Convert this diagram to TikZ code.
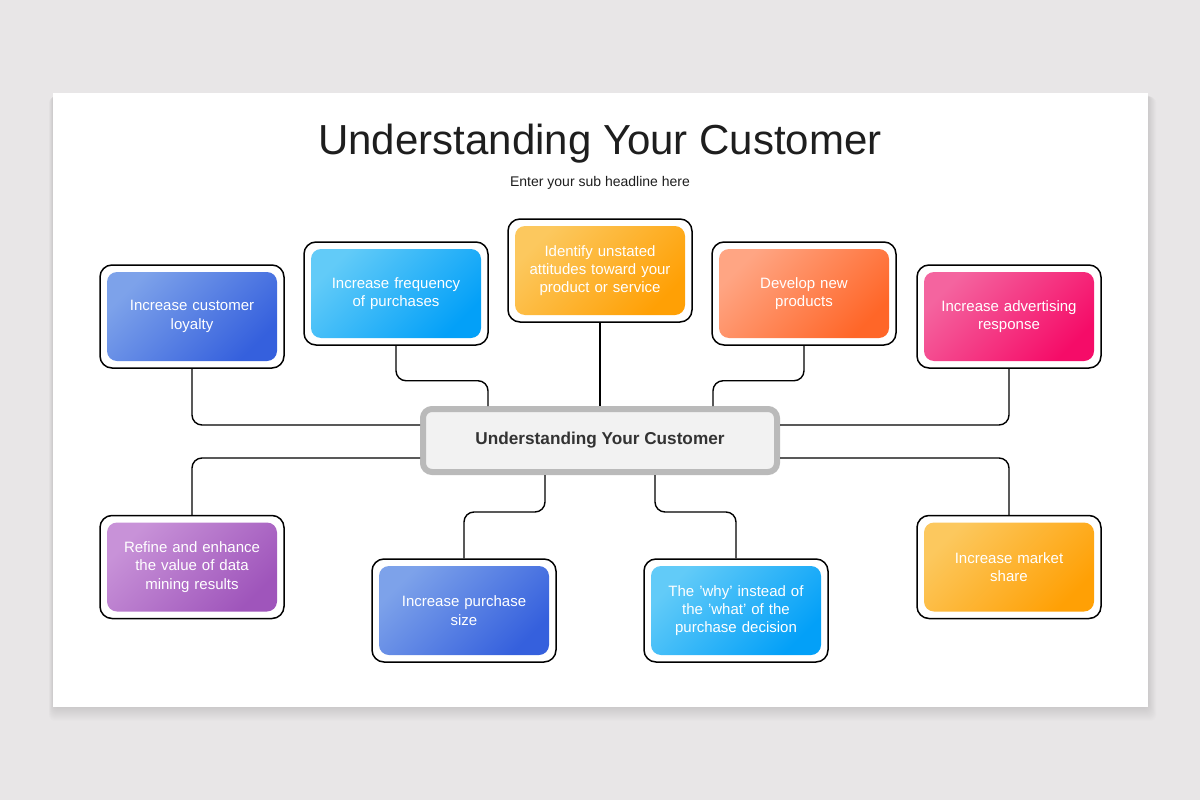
\documentclass[tikz,border=0pt]{standalone}
\usepackage{fontspec}
\setmainfont{Liberation Sans}
\usetikzlibrary{calc}
\definecolor{bgc}{HTML}{E8E6E7}
\definecolor{titlec}{HTML}{1E1E1E}
\definecolor{blueA}{HTML}{7DA2EA}\definecolor{blueB}{HTML}{3560DD}
\definecolor{skyA}{HTML}{62CBF8}\definecolor{skyB}{HTML}{03A0F8}
\definecolor{yelA}{HTML}{FCC85E}\definecolor{yelB}{HTML}{FFA005}
\definecolor{orA}{HTML}{FFA583}\definecolor{orB}{HTML}{FF6628}
\definecolor{pkA}{HTML}{F4649F}\definecolor{pkB}{HTML}{F50C68}
\definecolor{puA}{HTML}{C892D8}\definecolor{puB}{HTML}{9F55BB}
\tikzset{
  outerbox/.style={draw=black, line width=1.5pt, fill=white, rounded corners=12pt, minimum width=184pt, minimum height=103pt},
  innerbox/.style={rounded corners=10pt, minimum width=170pt, minimum height=89pt, text=white, font=\fontsize{15}{18.3}\selectfont, align=center, text width=160pt},
  grad/.style 2 args={top color=#1, bottom color=#2, shading angle=45},
  conn/.style={draw=black, line width=1.4pt, rounded corners=10pt},
}
\begin{document}
\begin{tikzpicture}[x=1pt,y=-1pt]
\fill[bgc] (0,0) rectangle (1200,800);
\useasboundingbox (0,0) rectangle (1200,800);
% slide shadow
\foreach \d in {1,2,...,14}{
  \fill[black,opacity=0.007,rounded corners=6pt] (53-\d*0.3,93+\d*0.3) rectangle (1148+\d*0.6,707+\d);
}
\fill[white] (53,93) rectangle (1148,707);
\node[text=titlec, font=\fontsize{42}{48}\selectfont] (title) at (600,144) {Understanding Your Customer};
\node[text=titlec, font=\fontsize{14}{16}\selectfont] (sub) at (600,183) {Enter your sub headline here};

% center
\node[draw=black!27, line width=6pt, fill=black!5, rounded corners=9pt, minimum width=354pt, minimum height=63pt, text=black!80, font=\bfseries\fontsize{17.2}{20}\selectfont] (c) at (600,440.5) {Understanding Your Customer};

% outer boxes
\node[outerbox] (o1) at (192,316.5) {};
\node[outerbox] (o2) at (396,293.5) {};
\node[outerbox] (o3) at (600,270.5) {};
\node[outerbox] (o4) at (804,293.5) {};
\node[outerbox] (o5) at (1009,316.5) {};
\node[outerbox] (o6) at (192,567) {};
\node[outerbox] (o7) at (464,610.5) {};
\node[outerbox] (o8) at (736,610.5) {};
\node[outerbox] (o9) at (1009,567) {};

% inner boxes
\node[innerbox, grad={blueA}{blueB}] (i1) at (o1) {Increase customer\\loyalty};
\node[innerbox, grad={skyA}{skyB}] (i2) at (o2) {Increase frequency\\of purchases};
\node[innerbox, grad={yelA}{yelB}] (i3) at (o3) {Identify unstated\\attitudes toward your\\product or service};
\node[innerbox, grad={orA}{orB}] (i4) at (o4) {Develop new\\products};
\node[innerbox, grad={pkA}{pkB}] (i5) at (o5) {Increase advertising\\response};
\node[innerbox, grad={puA}{puB}] (i6) at (o6) {Refine and enhance\\the value of data\\mining results};
\node[innerbox, grad={blueA}{blueB}] (i7) at (o7) {Increase purchase\\size};
\node[innerbox, grad={skyA}{skyB}] (i8) at (o8) {The 'why' instead of\\the 'what' of the\\purchase decision};
\node[innerbox, grad={yelA}{yelB}] (i9) at (o9) {Increase market\\share};

% connectors
\draw[conn] (o1.south) |- ([yshift=15.5pt]c.west);
\draw[conn] (o2.south) -- ++(0,35) -| ([xshift=-112pt]c.north);
\draw[conn] (o3.south) -- (c.north);
\draw[conn] (o4.south) -- ++(0,35) -| ([xshift=113pt]c.north);
\draw[conn] (o5.south) |- ([yshift=15.5pt]c.east);
\draw[conn] ([yshift=-17.5pt]c.west) -| (o6.north);
\draw[conn] ([xshift=-55pt]c.south) -- ++(0,37) -| (o7.north);
\draw[conn] ([xshift=55pt]c.south) -- ++(0,37) -| (o8.north);
\draw[conn] ([yshift=-17.5pt]c.east) -| (o9.north);
\end{tikzpicture}
\end{document}
